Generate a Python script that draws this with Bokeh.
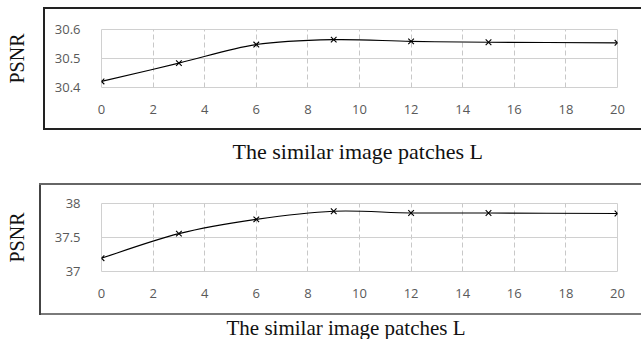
from bokeh.plotting import figure
from bokeh.layouts import column
from bokeh.models import FixedTicker, Range1d, Title
from bokeh.embed import file_html
from bokeh.resources import INLINE

# ---- data ----
patches_L = [0, 3, 6, 9, 12, 15, 20]
psnr_top = [30.421, 30.484, 30.548, 30.565, 30.559, 30.556, 30.554]
psnr_bottom = [37.196, 37.557, 37.767, 37.886, 37.861, 37.860, 37.852]
x_ticks = [0, 2, 4, 6, 8, 10, 12, 14, 16, 18, 20]
y_ticks_top = [30.4, 30.5, 30.6]
y_ticks_bottom = [37.0, 37.5, 38.0]
x_title = "The similar image patches L"
y_title = "PSNR"


def smooth_segments(xs, ys):
    n = len(xs)
    d = dict(x0=[], y0=[], x1=[], y1=[], cx0=[], cy0=[], cx1=[], cy1=[])
    for i in range(n - 1):
        pm = max(i - 1, 0)
        pn = min(i + 2, n - 1)
        d["x0"].append(xs[i]); d["y0"].append(ys[i])
        d["x1"].append(xs[i + 1]); d["y1"].append(ys[i + 1])
        d["cx0"].append(xs[i] + (xs[i + 1] - xs[pm]) / 6.0)
        d["cy0"].append(ys[i] + (ys[i + 1] - ys[pm]) / 6.0)
        d["cx1"].append(xs[i + 1] - (xs[pn] - xs[i]) / 6.0)
        d["cy1"].append(ys[i + 1] - (ys[pn] - ys[i]) / 6.0)
    return d


def box_css(left, top, bottom, colors):
    c_top, c_left, c_bot = colors
    h = bottom - top + 2
    w = 641 - left
    return {
        "background-image": (
            f"linear-gradient({c_top},{c_top}), "
            f"linear-gradient({c_left},{c_left}), "
            f"linear-gradient({c_bot},{c_bot})"
        ),
        "background-position": f"{left}px {top}px, {left}px {top}px, {left}px {bottom}px",
        "background-size": f"{w}px 2px, 2px {h}px, {w}px 2px",
        "background-repeat": "no-repeat, no-repeat, no-repeat",
    }


def panel(h, ys, yticks, yrange, bl, br, bt, bb, ytick_fmt, ylab_standoff,
          title_size, title_offset, title_pad, fallback_standoff, css):
    p = figure(width=641, height=h, output_backend="svg", toolbar_location=None,
               x_range=Range1d(0, 20), y_range=Range1d(*yrange),
               min_border_left=bl, min_border_right=br, min_border_top=bt,
               min_border_bottom=bb, styles=css)
    p.background_fill_color = "white"
    p.border_fill_alpha = 0
    p.outline_line_color = "#d0d0d0"
    p.outline_line_width = 1

    p.xaxis.ticker = FixedTicker(ticks=x_ticks)
    p.yaxis.ticker = FixedTicker(ticks=yticks)
    p.yaxis.major_label_overrides = {t: ytick_fmt(t) for t in yticks}
    for ax in (p.xaxis[0], p.yaxis[0]):
        ax.axis_line_color = None
        ax.major_tick_line_color = None
        ax.minor_tick_line_color = None
        ax.major_label_text_color = "#595959"
        ax.major_label_text_font = "Open Sans"
        ax.major_label_text_font_size = "13px"
        ax.axis_label_text_font = "Liberation Serif"
        ax.axis_label_text_font_size = title_size
        ax.axis_label_text_font_style = "normal"
        ax.axis_label_text_color = "#111111"
    p.yaxis.axis_label_text_font_size = "20px"
    p.xaxis.major_label_standoff = 11
    p.yaxis.major_label_standoff = 15
    p.yaxis.axis_label = y_title
    p.yaxis.axis_label_standoff = ylab_standoff

    try:
        t = Title(text=x_title, align="left", offset=title_offset, standoff=0,
                  padding=(0, 0, title_pad, 0), text_font="Liberation Serif",
                  text_font_size=title_size, text_font_style="normal",
                  text_color="#111111")
        p.add_layout(t, "below")
    except Exception:
        p.xaxis.axis_label = x_title
        p.xaxis.axis_label_standoff = fallback_standoff

    p.xgrid.ticker = FixedTicker(ticks=x_ticks)
    p.xgrid.grid_line_color = "#c8c8c8"
    p.xgrid.grid_line_dash = "5 3"
    p.ygrid.ticker = FixedTicker(ticks=yticks)
    p.ygrid.grid_line_color = "#d0d0d0"

    p.bezier(x0="x0", y0="y0", x1="x1", y1="y1", cx0="cx0", cy0="cy0",
             cx1="cx1", cy1="cy1", source=smooth_segments(patches_L, ys),
             line_color="black", line_width=1.1)
    p.scatter(patches_L, ys, marker="x", size=8, line_color="black", line_width=1.1)
    return p


p1 = panel(170, psnr_top, y_ticks_top, (30.4, 30.6), 101, 24, 29, 83,
           lambda t: f"{t:.1f}", 24, "22px", 131, 20, 20,
           box_css(43, 7, 128, ("#222222", "#222222", "#222222")))
p2 = panel(169, psnr_bottom, y_ticks_bottom, (37.0, 38.0), 96, 19, 33, 67,
           lambda t: ("%g" % t), 24, "21px", 125, 13, 14,
           box_css(39, 13, 143, ("#666666", "#444444", "#7a7a7a")))

layout = column(p1, p2, spacing=0)
open("out.html", "w").write(file_html(layout, INLINE))
